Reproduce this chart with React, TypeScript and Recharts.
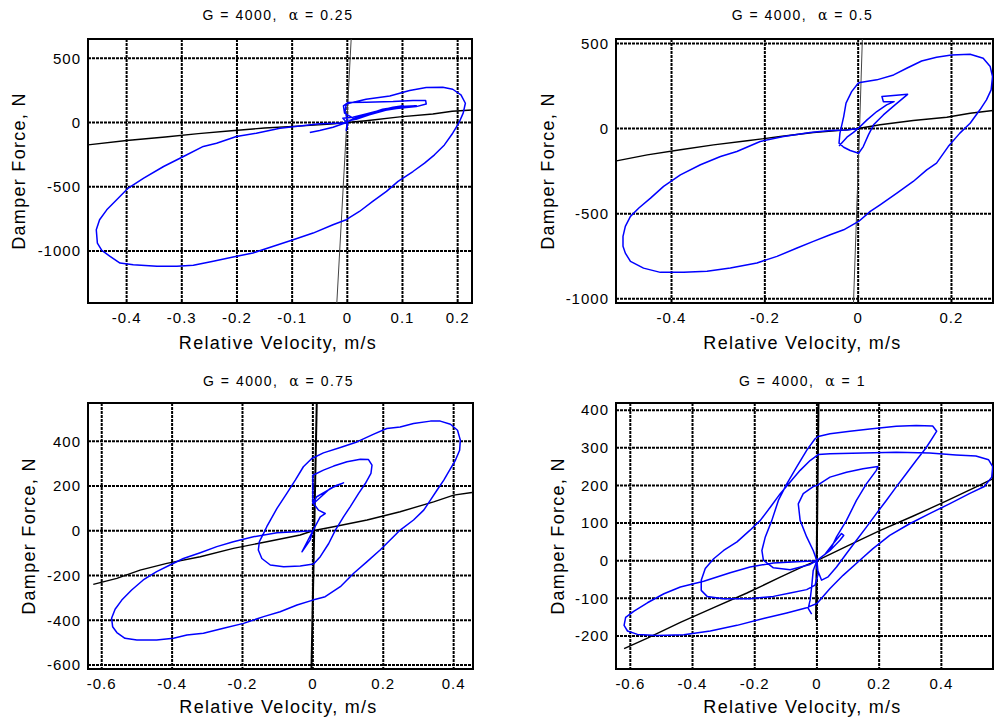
import React from 'react';
import { LineChart, Line, XAxis, YAxis, CartesianGrid, ReferenceArea } from 'recharts';

type Pt = [number, number];

// [relative velocity (m/s), damper force (N)] in recorded order

// alpha = 0.25
const measured025: Pt[] = [
  [-0.068, -78], [-0.05, -62], [-0.026, -36], [-0.008, -10], [0, 0], [-0.002, -62], [0.001, -10],
  [-0.008, 34], [0.01, 41], [0.034, 67], [0.058, 93], [0.083, 119], [0.101, 130], [0.071, 98],
  [0.04, 60], [0.016, 26], [0.004, 16], [0.028, 52], [0.064, 104], [0.095, 124], [0.125, 130],
  [0.09, 118], [0.05, 78], [0.012, 30], [-0.005, 73], [-0.007, 130], [0.001, 155], [0.034, 158],
  [0.083, 163], [0.119, 171], [0.142, 171], [0.143, 145], [0.125, 124], [0.089, 109], [0.052, 83],
  [0.022, 47], [0.001, 5], [-0.004, 85], [-0.002, 145], [0.034, 181], [0.077, 207], [0.113, 249],
  [0.143, 272], [0.173, 275], [0.191, 259], [0.206, 215], [0.214, 150], [0.21, 73], [0.202, -5],
  [0.191, -83], [0.176, -174], [0.158, -251], [0.14, -316], [0.119, -381], [0.092, -458],
  [0.071, -536], [0.046, -614], [0.022, -692], [-0.002, -756], [-0.026, -795], [-0.062, -860],
  [-0.098, -912], [-0.134, -963], [-0.171, -1015], [-0.207, -1046], [-0.243, -1080],
  [-0.279, -1111], [-0.309, -1119], [-0.345, -1119], [-0.388, -1106], [-0.412, -1093],
  [-0.43, -1041], [-0.445, -995], [-0.453, -938], [-0.455, -834], [-0.449, -756], [-0.436, -679],
  [-0.418, -601], [-0.397, -510], [-0.369, -433], [-0.333, -342], [-0.297, -264], [-0.261, -186],
  [-0.237, -161], [-0.201, -109], [-0.165, -83], [-0.122, -44], [-0.086, -26], [-0.05, -10],
  [-0.02, -5], [0, 0],
];
const linear025: Pt[] = [
  [-0.47, -174], [-0.4, -140], [-0.33, -112], [-0.27, -86], [-0.21, -64], [-0.15, -42],
  [-0.09, -28], [-0.03, -12], [0, 0], [0.034, 14], [0.095, 44], [0.155, 66], [0.19, 88], [0.226, 98],
];
const steep025: Pt[] = [[-0.019, -1404], [-0.001, 0], [0.007, 650]];
const velTicks025 = [-0.4, -0.3, -0.2, -0.1, 0, 0.1, 0.2];
const forceTicks025 = [-1000, -500, 0, 500];

// alpha = 0.5
const measured05: Pt[] = [
  [-0.041, -102], [-0.024, -51], [-0.01, -23], [0, 0], [0.019, 51], [0.04, 100], [0.061, 139],
  [0.077, 158], [0.054, 158], [0.051, 188], [0.106, 201], [0.079, 139], [0.054, 80], [0.033, 22],
  [0.022, -37], [0.011, -106], [0.001, -145], [-0.017, -129], [-0.031, -110], [-0.041, -86],
  [-0.039, -27], [-0.031, 70], [-0.026, 149], [-0.014, 217], [0, 266], [0.004, 270], [0.04, 286],
  [0.076, 315], [0.104, 354], [0.136, 397], [0.168, 419], [0.2, 432], [0.24, 436], [0.268, 413],
  [0.283, 364], [0.288, 305], [0.285, 227], [0.275, 168], [0.261, 110], [0.24, 31], [0.218, -27],
  [0.193, -106], [0.168, -203], [0.147, -243], [0.118, -311], [0.083, -379], [0.047, -448],
  [0.026, -487], [0.001, -546], [-0.031, -595], [-0.06, -624], [-0.096, -663], [-0.131, -702],
  [-0.174, -751], [-0.217, -790], [-0.274, -820], [-0.324, -839], [-0.374, -845], [-0.424, -845],
  [-0.46, -820], [-0.488, -780], [-0.499, -732], [-0.504, -692], [-0.504, -634], [-0.499, -575],
  [-0.488, -516], [-0.47, -467], [-0.445, -409], [-0.417, -340], [-0.381, -272], [-0.338, -213],
  [-0.295, -164], [-0.26, -135], [-0.21, -76], [-0.16, -47], [-0.103, -23], [-0.06, -12],
  [-0.024, -8], [0, 0],
];
const linear05: Pt[] = [
  [-0.518, -190], [-0.452, -155], [-0.381, -125], [-0.31, -96], [-0.238, -72], [-0.167, -47],
  [-0.096, -23], [-0.024, -8], [0, 0], [0.047, 22], [0.118, 47], [0.19, 66], [0.24, 90], [0.289, 106],
];
const steep05: Pt[] = [[-0.01, -1025], [0.003, 0], [0.009, 526]];
const velTicks05 = [-0.4, -0.2, 0, 0.2];
const forceTicks05 = [-1000, -500, 0, 500];

// alpha = 0.75
const measured075: Pt[] = [
  [0, 0], [-0.031, -94], [-0.008, -42], [0, 0], [0.021, 62], [0.035, 77], [0.016, 92], [0.002, 122],
  [0.049, 189], [0.087, 214], [0.068, 204], [0.011, 152], [0, 122], [0, 248], [0.03, 271],
  [0.059, 289], [0.097, 308], [0.135, 320], [0.158, 318], [0.168, 293], [0.165, 256], [0.149, 211],
  [0.13, 167], [0.106, 107], [0.087, 62], [0.064, 3], [0.045, -57], [0.021, -116], [0.002, -149],
  [-0.036, -158], [-0.083, -161], [-0.121, -153], [-0.145, -124], [-0.155, -86], [-0.152, -49],
  [-0.14, -12], [-0.131, 18], [-0.102, 100], [-0.074, 167], [-0.05, 226], [-0.027, 286],
  [-0.003, 323], [0.03, 348], [0.078, 372], [0.125, 397], [0.173, 432], [0.21, 457], [0.248, 464],
  [0.286, 479], [0.334, 490], [0.362, 490], [0.391, 476], [0.411, 449], [0.419, 405], [0.417, 360],
  [0.405, 315], [0.391, 278], [0.372, 226], [0.353, 182], [0.334, 137], [0.315, 92], [0.286, 48],
  [0.248, 3], [0.229, -27], [0.191, -86], [0.154, -138], [0.116, -190], [0.078, -250],
  [0.035, -295], [0, -310], [-0.045, -332], [-0.093, -362], [-0.14, -384], [-0.197, -414],
  [-0.254, -436], [-0.311, -458], [-0.358, -466], [-0.396, -481], [-0.444, -488], [-0.5, -488],
  [-0.534, -481], [-0.557, -455], [-0.569, -429], [-0.572, -391], [-0.562, -351], [-0.543, -310],
  [-0.515, -265], [-0.482, -220], [-0.444, -183], [-0.406, -153], [-0.368, -124], [-0.32, -98],
  [-0.273, -71], [-0.226, -49], [-0.169, -27], [-0.102, -9], [-0.036, -3], [0, 0],
];
const linear075: Pt[] = [
  [-0.624, -240], [-0.557, -213], [-0.491, -176], [-0.415, -146], [-0.32, -116], [-0.226, -79],
  [-0.131, -49], [-0.036, -19], [0, 0], [0.059, 18], [0.154, 48], [0.248, 85], [0.343, 129],
  [0.4, 159], [0.452, 171],
];
const steep075: Pt[] = [[-0.004, -618], [0.011, 571]];
const velTicks075 = [-0.6, -0.4, -0.2, 0, 0.2, 0.4];
const forceTicks075 = [-600, -400, -200, 0, 200, 400];

// alpha = 1
const measured1: Pt[] = [
  [0, 0], [-0.065, -3], [-0.14, -6], [-0.215, -17], [-0.279, -32], [-0.364, -55], [-0.439, -70],
  [-0.492, -88], [-0.545, -112], [-0.588, -134], [-0.615, -151], [-0.62, -172], [-0.609, -187],
  [-0.577, -196], [-0.513, -199], [-0.428, -197], [-0.343, -187], [-0.257, -172], [-0.172, -154],
  [-0.097, -139], [-0.033, -125], [0, -114], [0.042, -74], [0.084, -39], [0.138, 1], [0.18, 32],
  [0.234, 67], [0.298, 98], [0.362, 125], [0.426, 151], [0.49, 178], [0.538, 197], [0.562, 222],
  [0.565, 250], [0.552, 268], [0.511, 278], [0.447, 281], [0.362, 286], [0.255, 288], [0.148, 286],
  [0.042, 284], [0.004, 282], [-0.022, 266], [-0.054, 240], [-0.086, 209], [-0.118, 178],
  [-0.15, 142], [-0.182, 107], [-0.215, 81], [-0.257, 50], [-0.3, 27], [-0.332, 5], [-0.359, -21],
  [-0.372, -52], [-0.372, -79], [-0.353, -95], [-0.3, -101], [-0.215, -101], [-0.14, -95],
  [-0.086, -86], [-0.033, -77], [-0.006, -65], [0.004, -35], [0, 0], [-0.022, -10], [-0.086, -24],
  [-0.14, -19], [-0.172, 1], [-0.177, 27], [-0.166, 63], [-0.145, 107], [-0.124, 160],
  [-0.097, 204], [-0.065, 249], [-0.033, 293], [-0.006, 324], [0.004, 330], [0.042, 337],
  [0.106, 344], [0.17, 350], [0.255, 357], [0.319, 359], [0.372, 358], [0.385, 344], [0.372, 327],
  [0.351, 300], [0.319, 266], [0.287, 231], [0.255, 196], [0.223, 160], [0.191, 125], [0.159, 89],
  [0.127, 54], [0.095, 19], [0.063, -17], [0.036, -43], [0.015, -52], [0, -21], [0, 0],
  [-0.012, 27], [-0.033, 63], [-0.054, 107], [-0.06, 151], [-0.044, 178], [-0.012, 197],
  [0.001, 200], [0.042, 222], [0.095, 235], [0.148, 244], [0.196, 250], [0.191, 240], [0.159, 204],
  [0.127, 160], [0.095, 107], [0.063, 63], [0.042, 27], [0.026, 17], [0.052, 45], [0.079, 72],
  [0.086, 67], [0.074, 54], [0.042, 27], [0.015, 10], [0, 0], [-0.012, -26], [-0.017, -70],
  [-0.022, -105], [-0.028, -127], [-0.017, -142],
];
const linear1: Pt[] = [
  [-0.62, -234], [-0.545, -206], [-0.439, -164], [-0.332, -125], [-0.225, -86], [-0.118, -44],
  [-0.04, -14], [0, 0], [0.095, 38], [0.202, 80], [0.308, 118], [0.415, 158], [0.522, 200],
  [0.566, 218],
];
const steep1: Pt[] = [[-0.003, -158], [0.005, 419]];
const velTicks1 = [-0.6, -0.4, -0.2, 0, 0.2, 0.4];
const forceTicks1 = [-200, -100, 0, 100, 200, 300, 400];

const FONT = '"Liberation Sans", Arial, Helvetica, sans-serif';
const tickStyle = { fontSize: 15, fill: '#000', fontFamily: FONT, letterSpacing: 1 };

const toRows = (pts: Pt[]) => pts.map(([v, f]) => ({ v, f }));

interface PanelProps {
  left: number;
  top: number;
  width: number;
  height: number;
  plotTop: number;
  plotRight: number;
  yAxisWidth: number;
  xAxisHeight: number;
  xDomain: [number, number];
  yDomain: [number, number];
  xTicks: number[];
  yTicks: number[];
  measured: Pt[];
  linear: Pt[];
  steep: Pt[];
  steepColor: string;
  steepWidth: number;
  alpha: string;
  titleY: number;
  xLabelY: number;
  yLabelX: number;
}

function HysteresisPanel(p: PanelProps) {
  const plotLeft = p.yAxisWidth;
  const plotW = p.width - p.plotRight - plotLeft;
  const centerX = plotLeft + plotW / 2;
  const centerY = (p.plotTop + p.height - p.xAxisHeight) / 2;
  return (
    <div style={{ position: 'absolute', left: p.left, top: p.top, width: p.width, height: p.height }}>
      <LineChart
        width={p.width}
        height={p.height}
        margin={{ top: p.plotTop, right: p.plotRight, bottom: 0, left: 0 }}
      >
        <CartesianGrid stroke="#000" strokeWidth={2} strokeDasharray="3 1" />
        <XAxis
          type="number"
          dataKey="v"
          domain={p.xDomain}
          ticks={p.xTicks}
          interval={0}
          allowDataOverflow
          height={p.xAxisHeight}
          axisLine={false}
          tickLine={false}
          tickSize={6}
          tickMargin={3}
          tick={tickStyle}
        />
        <YAxis
          type="number"
          dataKey="f"
          domain={p.yDomain}
          ticks={p.yTicks}
          interval={0}
          allowDataOverflow
          width={p.yAxisWidth}
          axisLine={false}
          tickLine={false}
          tickSize={4}
          tickMargin={3}
          tick={tickStyle}
        />
        <ReferenceArea
          x1={p.xDomain[0]}
          x2={p.xDomain[1]}
          y1={p.yDomain[0]}
          y2={p.yDomain[1]}
          fill="none"
          stroke="#000"
          strokeWidth={2}
          ifOverflow="visible"
        />
        <Line
          data={toRows(p.steep)}
          dataKey="f"
          type="linear"
          stroke={p.steepColor}
          strokeWidth={p.steepWidth}
          dot={false}
          isAnimationActive={false}
        />
        <Line
          data={toRows(p.linear)}
          dataKey="f"
          type="linear"
          stroke="#000"
          strokeWidth={1.4}
          dot={false}
          isAnimationActive={false}
        />
        <Line
          data={toRows(p.measured)}
          dataKey="f"
          type="linear"
          stroke="#0000ff"
          strokeWidth={1.5}
          strokeLinejoin="round"
          dot={false}
          isAnimationActive={false}
        />
      </LineChart>
      <svg
        width={p.width}
        height={p.height}
        style={{ position: 'absolute', left: 0, top: 0, pointerEvents: 'none' }}
        fontFamily={FONT}
      >
        <text x={centerX - 2} y={p.titleY} fontSize={14} textAnchor="middle" letterSpacing={1.5} style={{ whiteSpace: 'pre' }}>
          {'G = 4000,  '}
          <tspan fontFamily='"DejaVu Serif", serif' fontSize={14}>α</tspan>
          {' = ' + p.alpha}
        </text>
        <text x={centerX - 2} y={p.xLabelY} fontSize={18} textAnchor="middle" letterSpacing={1.3}>
          Relative Velocity, m/s
        </text>
        <text
          x={p.yLabelX}
          y={centerY}
          fontSize={18}
          textAnchor="middle"
          letterSpacing={1.3}
          transform={`rotate(-90 ${p.yLabelX} ${centerY})`}
        >
          Damper Force, N
        </text>
      </svg>
    </div>
  );
}

export default function App() {
  return (
    <div style={{ position: 'absolute', left: 0, top: 0, width: 994, height: 721, background: '#fff' }}>
      <HysteresisPanel
        left={0} top={0} width={497} height={360}
        plotTop={39} plotRight={25} yAxisWidth={88} xAxisHeight={57}
        xDomain={[-0.47, 0.226]} yDomain={[-1404, 650]}
        xTicks={velTicks025} yTicks={forceTicks025}
        measured={measured025} linear={linear025} steep={steep025}
        steepColor="#444" steepWidth={1}
        alpha="0.25" titleY={20} xLabelY={349} yLabelX={25}
      />
      <HysteresisPanel
        left={497} top={0} width={497} height={360}
        plotTop={39} plotRight={1} yAxisWidth={119} xAxisHeight={57}
        xDomain={[-0.519, 0.289]} yDomain={[-1025, 526]}
        xTicks={velTicks05} yTicks={forceTicks05}
        measured={measured05} linear={linear05} steep={steep05}
        steepColor="#444" steepWidth={1}
        alpha="0.5" titleY={20} xLabelY={349} yLabelX={57}
      />
      <HysteresisPanel
        left={0} top={360} width={497} height={361}
        plotTop={43} plotRight={24} yAxisWidth={88} xAxisHeight={52}
        xDomain={[-0.639, 0.455]} yDomain={[-618, 571]}
        xTicks={velTicks075} yTicks={forceTicks075}
        measured={measured075} linear={linear075} steep={steep075}
        steepColor="#000" steepWidth={2}
        alpha="0.75" titleY={26} xLabelY={353} yLabelX={35}
      />
      <HysteresisPanel
        left={497} top={360} width={497} height={361}
        plotTop={43} plotRight={1} yAxisWidth={119} xAxisHeight={52}
        xDomain={[-0.646, 0.566]} yDomain={[-288, 419]}
        xTicks={velTicks1} yTicks={forceTicks1}
        measured={measured1} linear={linear1} steep={steep1}
        steepColor="#000" steepWidth={2}
        alpha="1" titleY={26} xLabelY={353} yLabelX={67}
      />
    </div>
  );
}
